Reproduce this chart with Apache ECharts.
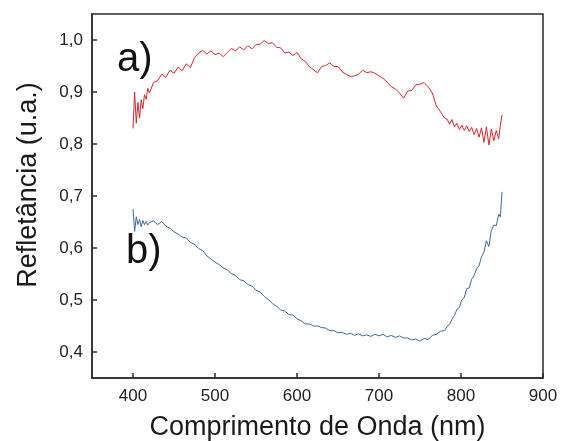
<!DOCTYPE html>
<html>
<head>
<meta charset="utf-8">
<script src="https://cdn.jsdelivr.net/npm/echarts@6/dist/echarts.min.js"></script>
<style>
  html, body { margin: 0; padding: 0; background: #fff; }
  #main { width: 561px; height: 441px; }
</style>
</head>
<body>
<div id="main"></div>
<script>
// comprimento de onda (nm)
var wavelengths = [
  400, 402, 404, 406, 408, 410, 412, 414, 416, 418, 420,
  425, 430, 435, 440, 445, 450, 455, 460, 465, 470, 475, 480, 485, 490, 495,
  500, 505, 510, 515, 520, 525, 530, 535, 540, 545, 550, 555, 560, 565, 570,
  575, 580, 585, 590, 595, 600, 605, 610, 615, 620, 625, 630, 635, 640, 645,
  650, 655, 660, 665, 670, 675, 680, 685, 690, 695, 700, 705, 710, 715, 720,
  725, 730, 735, 740, 745, 750, 755, 760, 765, 770, 775, 780,
  783, 786, 789, 792, 795, 798, 801, 804, 807, 810, 813, 816, 819, 822, 825,
  828, 831, 834, 837, 840, 843, 846, 848, 850
];

// curva a)
var reflA = [
  0.830, 0.900, 0.840, 0.880, 0.850, 0.885, 0.868, 0.895, 0.886, 0.907, 0.898,
  0.918, 0.922, 0.934, 0.928, 0.942, 0.936, 0.948, 0.941, 0.954, 0.947, 0.966, 0.975, 0.980, 0.973, 0.979,
  0.972, 0.975, 0.968, 0.976, 0.984, 0.979, 0.987, 0.981, 0.989, 0.983, 0.991, 0.992, 0.999, 0.993, 0.995,
  0.986, 0.985, 0.975, 0.977, 0.970, 0.976, 0.964, 0.959, 0.949, 0.943, 0.937, 0.949, 0.951, 0.956, 0.949,
  0.949, 0.939, 0.934, 0.930, 0.931, 0.934, 0.942, 0.937, 0.939, 0.936, 0.931, 0.926, 0.919, 0.910, 0.906,
  0.898, 0.888, 0.902, 0.903, 0.914, 0.915, 0.918, 0.910, 0.898, 0.873, 0.862, 0.850,
  0.848, 0.838, 0.847, 0.833, 0.840, 0.828, 0.836, 0.826, 0.835, 0.824, 0.832, 0.818, 0.830, 0.813, 0.831,
  0.803, 0.833, 0.798, 0.829, 0.806, 0.826, 0.810, 0.836, 0.856
];

// curva b)
var reflB = [
  0.675, 0.632, 0.660, 0.645, 0.655, 0.641, 0.653, 0.645, 0.651, 0.644, 0.649,
  0.652, 0.645, 0.651, 0.642, 0.638, 0.631, 0.627, 0.621, 0.619, 0.611, 0.607, 0.599, 0.595, 0.585, 0.579,
  0.573, 0.568, 0.562, 0.558, 0.551, 0.547, 0.539, 0.537, 0.530, 0.527, 0.519, 0.515, 0.507, 0.501, 0.493,
  0.488, 0.481, 0.479, 0.472, 0.471, 0.464, 0.460, 0.454, 0.454, 0.450, 0.450, 0.447, 0.446, 0.441, 0.441,
  0.437, 0.438, 0.434, 0.436, 0.432, 0.435, 0.431, 0.433, 0.430, 0.434, 0.431, 0.434, 0.429, 0.432, 0.428,
  0.431, 0.427, 0.427, 0.423, 0.425, 0.421, 0.426, 0.424, 0.432, 0.434, 0.440, 0.441,
  0.449, 0.453, 0.463, 0.470, 0.482, 0.486, 0.500, 0.505, 0.522, 0.523, 0.540, 0.547, 0.560, 0.566, 0.583,
  0.592, 0.614, 0.603, 0.634, 0.644, 0.643, 0.665, 0.660, 0.708
];

var xTicks = [400, 500, 600, 700, 800, 900];
var yTicks = [0.4, 0.5, 0.6, 0.7, 0.8, 0.9, 1.0];

var myChart = echarts.init(document.getElementById('main'));

var fontFamily = '"Liberation Sans", Arial, sans-serif';

var option = {
  backgroundColor: '#fff',
  animation: false,
  grid: {
    left: 92, top: 14, right: 18, bottom: 63,
    outerBoundsMode: 'none',
    show: true, borderColor: '#2b2b2b', borderWidth: 1.5
  },
  xAxis: {
    type: 'value',
    min: 350, max: 900,
    name: 'Comprimento de Onda (nm)',
    nameLocation: 'middle',
    nameGap: 36,
    nameTextStyle: { fontSize: 27, color: '#1a1a1a', fontFamily: fontFamily },
    splitLine: { show: false },
    axisLine: { lineStyle: { color: '#2b2b2b', width: 1.5 } },
    axisTick: { inside: true, length: 5, customValues: xTicks, lineStyle: { color: '#2b2b2b', width: 1.5 } },
    axisLabel: { customValues: xTicks, margin: 10, fontSize: 17, color: '#222', fontFamily: fontFamily }
  },
  yAxis: {
    type: 'value',
    min: 0.35, max: 1.05,
    name: 'Refletância (u.a.)',
    nameLocation: 'middle',
    nameGap: 50,
    nameTextStyle: { fontSize: 27, color: '#1a1a1a', fontFamily: fontFamily, padding: [0, 0, 0, 22] },
    splitLine: { show: false },
    axisLine: { show: true, lineStyle: { color: '#2b2b2b', width: 1.5 } },
    axisTick: { inside: true, length: 5, customValues: yTicks, lineStyle: { color: '#2b2b2b', width: 1.5 } },
    axisLabel: {
      customValues: yTicks, margin: 9, fontSize: 17, color: '#222', fontFamily: fontFamily,
      formatter: function (v) { return v.toFixed(1).replace('.', ','); }
    }
  },
  graphic: [
    { type: 'text', left: 117, top: 40, style: { text: 'a)', font: '40px ' + fontFamily, fill: '#111' } },
    { type: 'text', left: 126, top: 232, style: { text: 'b)', font: '40px ' + fontFamily, fill: '#111' } }
  ],
  series: [
    {
      name: 'a)', type: 'line', showSymbol: false,
      data: wavelengths.map(function (w, i) { return [w, reflA[i]]; }),
      lineStyle: { color: '#d9262c', width: 1 }
    },
    {
      name: 'b)', type: 'line', showSymbol: false,
      data: wavelengths.map(function (w, i) { return [w, reflB[i]]; }),
      lineStyle: { color: '#3c6b9e', width: 1 }
    }
  ]
};
myChart.setOption(option);
</script>
</body>
</html>
